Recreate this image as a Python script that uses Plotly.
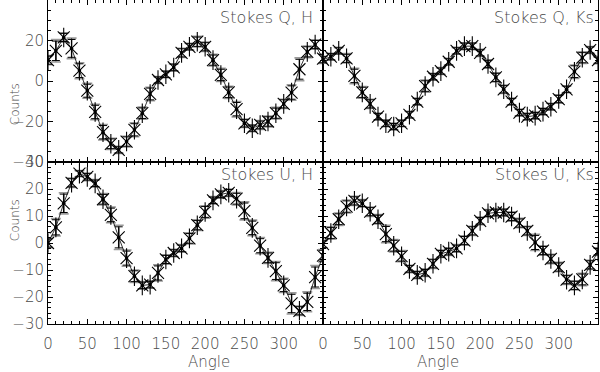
import plotly.graph_objects as go
from plotly.subplots import make_subplots

# angles (deg), same for all four panels
angle = list(range(0, 360, 10))

q_h = [10.3, 14.9, 21.5, 16.1, 5.1, -4.8, -15.3, -25.3, -31.0, -34.0, -29.9, -24.1,
       -15.9, -6.4, 0.5, 3.3, 6.7, 13.9, 16.9, 19.4, 16.9, 10.3, 3.0, -5.6,
       -13.9, -20.9, -23.3, -21.7, -20.0, -15.9, -11.3, -5.7, 5.8, 14.4, 18.0, 11.0]
q_h_err = [2.0, 4.8, 2.0, 4.4, 3.4, 3.2, 3.3, 3.3, 2.4, 1.5, 2.3, 3.0,
           2.6, 2.9, 1.5, 1.5, 1.6, 2.0, 1.5, 2.3, 2.0, 2.5, 2.8, 2.6,
           3.3, 1.8, 1.5, 1.9, 2.3, 2.5, 2.0, 3.3, 4.9, 2.5, 2.0, 2.0]

q_ks = [10.5, 12.0, 14.9, 11.2, 2.5, -5.6, -11.3, -17.6, -20.9, -22.5, -20.9, -16.7,
        -10.2, -2.5, 2.1, 4.9, 9.5, 14.9, 17.2, 17.2, 13.9, 8.4, 1.8, -4.1,
        -10.2, -15.6, -17.6, -17.1, -15.1, -12.7, -8.9, -4.1, 4.6, 11.5, 15.3, 10.3]
q_ks_err = [1.5, 1.5, 1.5, 2.0, 3.3, 2.5, 2.0, 1.5, 1.5, 1.5, 1.5, 1.5,
            1.5, 2.6, 1.5, 1.5, 1.5, 1.5, 1.5, 1.5, 1.5, 1.8, 2.0, 1.8,
            1.5, 1.5, 1.5, 1.5, 1.5, 1.5, 1.8, 1.5, 2.9, 2.5, 1.5, 1.5]

u_h = [0.0, 5.8, 14.7, 22.3, 25.7, 24.5, 22.1, 16.2, 10.4, 2.1, -5.6, -12.3,
       -15.7, -15.4, -11.1, -6.1, -3.7, -2.0, 1.7, 6.6, 11.5, 15.8, 18.0, 18.6,
       16.4, 11.9, 5.6, -1.0, -5.5, -10.4, -15.7, -22.4, -25.1, -21.8, -12.6, -4.7]
u_h_err = [1.5, 2.8, 3.4, 1.5, 1.0, 1.2, 1.2, 1.8, 2.5, 3.9, 2.6, 2.0,
           1.2, 1.2, 2.6, 1.5, 1.2, 1.2, 1.8, 1.7, 2.0, 1.2, 1.2, 1.2,
           2.0, 2.9, 2.5, 2.6, 1.8, 3.1, 2.3, 3.4, 1.5, 3.2, 3.7, 2.0]

u_ks = [-0.4, 3.7, 8.8, 13.5, 15.6, 14.7, 11.6, 8.8, 3.3, -1.0, -4.9, -9.6,
        -11.8, -11.0, -7.7, -4.0, -3.2, -2.0, 0.9, 4.5, 8.2, 11.0, 11.3, 11.3,
        9.8, 7.4, 4.5, 0.2, -2.8, -5.9, -8.9, -13.6, -15.7, -13.5, -8.1, -3.2]
u_ks_err = [1.2, 2.0, 2.0, 2.1, 1.5, 1.2, 1.5, 1.5, 2.8, 2.0, 1.8, 1.2,
            1.2, 1.2, 1.5, 1.2, 1.2, 1.2, 1.5, 1.5, 1.2, 1.2, 1.2, 1.2,
            1.5, 1.5, 1.5, 2.6, 1.5, 1.5, 1.5, 1.5, 1.5, 2.0, 1.5, 1.2]

panels = [
    (1, 1, q_h, q_h_err, "Stokes Q, H"),
    (1, 2, q_ks, q_ks_err, "Stokes Q, Ks"),
    (2, 1, u_h, u_h_err, "Stokes U, H"),
    (2, 2, u_ks, u_ks_err, "Stokes U, Ks"),
]

FONT = "DejaVu Sans"
TXT = "#4a4a4a"

fig = make_subplots(rows=2, cols=2, horizontal_spacing=0, vertical_spacing=0)

for row, col, vals, errs, label in panels:
    # grey error bars underneath (second, fainter set in the original)
    fig.add_trace(go.Scatter(
        x=angle, y=vals, mode="markers", marker=dict(size=1, color="rgba(0,0,0,0)"),
        error_y=dict(type="data", array=[e * 1.15 for e in errs], color="#9a9a9a",
                     thickness=1.6, width=5),
        showlegend=False, hoverinfo="skip"), row=row, col=col)
    # asterisk = X plus vertical stroke, with error bars and a thin connecting line
    fig.add_trace(go.Scatter(
        x=angle, y=vals, mode="lines+markers",
        line=dict(color="black", width=0.8),
        marker=dict(symbol="x-thin", size=12, line=dict(color="black", width=1.1)),
        error_y=dict(type="data", array=errs, color="black", thickness=1, width=4),
        showlegend=False), row=row, col=col)
    fig.add_trace(go.Scatter(
        x=angle, y=vals, mode="markers",
        marker=dict(symbol="line-ns", size=14, line=dict(color="black", width=1.1)),
        showlegend=False), row=row, col=col)
    fig.add_trace(go.Scatter(
        x=angle, y=vals, mode="markers",
        marker=dict(symbol="circle", size=3.5, color="black"),
        showlegend=False), row=row, col=col)
    ytop = 0.889 if row == 1 else 0.92
    xr = 0.971 if col == 1 else 0.993
    fig.add_annotation(text=label, x=xr, y=ytop, xref="x domain", yref="y domain",
                       xanchor="right", yanchor="middle", showarrow=False,
                       font=dict(family=FONT, size=16, color=TXT, weight=200),
                       row=row, col=col)

axis_common = dict(
    showline=True, linecolor="black", linewidth=1, mirror="allticks",
    ticks="inside", ticklen=5, tickcolor="black", tickwidth=1,
    showgrid=False, zeroline=False, automargin=False,
    tickfont=dict(family=FONT, size=15, color=TXT, weight=200),
)

for col in (1, 2):
    for row in (1, 2):
        fig.update_xaxes(range=[0, 350], tickvals=[0, 50, 100, 150, 200, 250, 300],
                         showticklabels=(row == 2), ticklabelstandoff=6,
                         minor=dict(dtick=10, ticklen=3, ticks="inside", tickcolor="black"),
                         row=row, col=col, **axis_common)
    fig.update_yaxes(range=[-40, 40], dtick=20, showticklabels=(col == 1),
                     minor=dict(dtick=5, ticklen=3, ticks="inside", tickcolor="black"),
                     row=1, col=col, **axis_common)
    fig.update_yaxes(range=[-30, 30], dtick=10, showticklabels=(col == 1),
                     minor=dict(dtick=2, ticklen=3, ticks="inside", tickcolor="black"),
                     row=2, col=col, **axis_common)

# axis titles
for yc in (0.75, 0.25):
    fig.add_annotation(text="Counts", x=-0.076, y=yc, xref="paper", yref="paper",
                       textangle=-90, showarrow=False,
                       font=dict(family=FONT, size=12, color=TXT, weight=200))
for xc in (0.25, 0.75):
    fig.add_annotation(text="Angle", x=xc, y=-0.117, xref="paper", yref="paper",
                       showarrow=False, yanchor="middle",
                       font=dict(family=FONT, size=15, color=TXT, weight=200))

fig.update_layout(
    template="none",
    width=600, height=372,
    margin=dict(l=48, r=2, t=0, b=48),
    plot_bgcolor="white", paper_bgcolor="white",
)

# page body has a default 8px margin; drop it so the figure sits at the window corner
fig.write_html("out.html", config={"displayModeBar": False},
               post_script="document.body.style.margin='0';")
